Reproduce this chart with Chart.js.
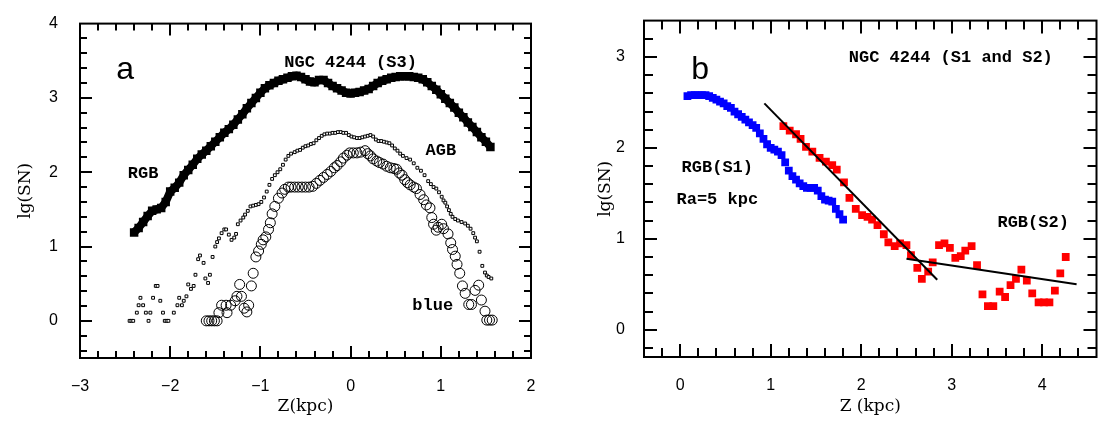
<!DOCTYPE html>
<html>
<head>
<meta charset="utf-8">
<script src="https://cdn.jsdelivr.net/npm/chart.js@4.4.1/dist/chart.umd.min.js"></script>
<style>
  body { margin: 0; background: #fff; }
  #wrap { position: relative; width: 1102px; height: 425px; }
  #wrap canvas { position: absolute; top: 0; }
  #chartA { left: 0; }
  #chartB { left: 560px; }
</style>
</head>
<body>
<div id="wrap">
  <canvas id="chartA" width="560" height="425"></canvas>
  <canvas id="chartB" width="542" height="425"></canvas>
</div>
<script>
// ---- panel a : NGC 4244 (S3), lg(SN) vs Z ----
const xTicksA = [-3, -2, -1, 0, 1, 2];
const yTicksA = [0, 1, 2, 3, 4];

const rgbZ = [-2.40,-2.35,-2.30,-2.25,-2.20,-2.15,-2.10,-2.05,-2.00,-1.95,-1.90,-1.85,-1.80,-1.75,-1.70,-1.65,-1.60,-1.55,-1.50,-1.45,
  -1.40,-1.35,-1.30,-1.25,-1.20,-1.15,-1.10,-1.05,-1.00,-0.95,-0.90,-0.85,-0.80,-0.75,-0.70,-0.65,-0.60,-0.55,-0.50,-0.45,
  -0.40,-0.35,-0.30,-0.25,-0.20,-0.15,-0.10,-0.05,0.00,0.05,0.10,0.15,0.20,0.25,0.30,0.35,0.40,0.45,0.50,0.55,
  0.60,0.65,0.70,0.75,0.80,0.85,0.90,0.95,1.00,1.05,1.10,1.15,1.20,1.25,1.30,1.35,1.40,1.45,1.50,1.55];
const rgbLg = [1.19,1.25,1.33,1.41,1.48,1.50,1.52,1.60,1.74,1.79,1.86,1.96,2.03,2.10,2.18,2.24,2.29,2.35,2.41,2.47,
  2.53,2.58,2.64,2.71,2.78,2.86,2.93,3.00,3.07,3.13,3.17,3.20,3.23,3.25,3.27,3.29,3.30,3.28,3.25,3.22,
  3.21,3.24,3.24,3.20,3.16,3.13,3.10,3.07,3.06,3.07,3.08,3.10,3.12,3.16,3.20,3.23,3.25,3.27,3.28,3.29,
  3.29,3.29,3.28,3.27,3.25,3.21,3.16,3.11,3.05,2.99,2.93,2.87,2.80,2.74,2.67,2.61,2.54,2.47,2.41,2.34];

const agb = [
  [-2.45,0.00],[-2.43,0.00],[-2.41,0.00],[-2.37,0.11],[-2.35,0.21],[-2.33,0.31],[-2.30,0.21],[-2.27,0.11],[-2.24,0.00],[-2.22,0.11],
  [-2.19,0.31],[-2.16,0.47],[-2.14,0.47],[-2.11,0.27],[-2.08,0.11],[-2.06,0.00],[-2.04,0.00],[-2.02,0.00],[-1.96,0.11],[-1.92,0.21],
  [-1.90,0.31],[-1.87,0.21],[-1.85,0.27],[-1.82,0.33],[-1.80,0.49],[-1.77,0.43],[-1.74,0.47],[-1.72,0.62],[-1.69,0.83],[-1.67,0.88],
  [-1.63,0.78],[-1.61,0.57],[-1.58,0.51],[-1.56,0.62],[-1.53,0.86],[-1.50,1.00],[-1.48,1.06],[-1.46,1.11],[-1.43,1.18],[-1.40,1.23],
  [-1.38,1.23],[-1.35,1.16],[-1.32,1.09],[-1.29,1.12],[-1.27,1.17],[-1.25,1.30],[-1.22,1.35],[-1.19,1.39],[-1.17,1.43],[-1.14,1.48],
  [-1.11,1.54],[-1.08,1.55],[-1.05,1.56],[-1.02,1.57],[-0.99,1.60],[-0.96,1.66],[-0.93,1.74],[-0.90,1.83],[-0.87,1.91],[-0.84,1.96],
  [-0.81,2.00],[-0.78,2.04],[-0.75,2.10],[-0.72,2.17],[-0.69,2.22],[-0.66,2.25],[-0.62,2.27],[-0.59,2.29],[-0.56,2.30],[-0.53,2.33],
  [-0.50,2.35],[-0.47,2.36],[-0.44,2.38],[-0.41,2.39],[-0.38,2.43],[-0.35,2.46],[-0.32,2.49],[-0.29,2.51],[-0.26,2.52],[-0.23,2.52],
  [-0.20,2.53],[-0.17,2.53],[-0.14,2.54],[-0.11,2.54],[-0.08,2.53],[-0.05,2.53],[-0.02,2.50],[0.01,2.48],[0.04,2.47],[0.07,2.46],
  [0.10,2.46],[0.13,2.47],[0.16,2.48],[0.19,2.49],[0.22,2.50],[0.25,2.48],[0.28,2.44],[0.31,2.42],[0.34,2.42],[0.37,2.41],
  [0.40,2.40],[0.43,2.39],[0.46,2.36],[0.49,2.32],[0.52,2.29],[0.55,2.25],[0.58,2.22],[0.62,2.19],[0.66,2.17],[0.70,2.12],
  [0.74,2.06],[0.78,2.02],[0.82,1.96],[0.86,1.88],[0.89,1.84],[0.92,1.80],[0.95,1.78],[0.98,1.73],[1.01,1.67],[1.03,1.62],
  [1.05,1.59],[1.07,1.54],[1.09,1.49],[1.11,1.44],[1.13,1.40],[1.16,1.37],[1.19,1.35],[1.23,1.33],[1.27,1.31],[1.30,1.28],
  [1.33,1.24],[1.36,1.18],[1.38,1.12],[1.40,1.07],[1.43,0.93],[1.46,0.74],[1.49,0.65],[1.51,0.61],[1.53,0.59],[1.56,0.57]
];

const blue = [
  [-1.60,0.00],[-1.57,0.00],[-1.54,0.00],[-1.51,0.00],[-1.48,0.00],[-1.46,0.11],[-1.43,0.21],[-1.38,0.21],[-1.37,0.11],[-1.33,0.21],
  [-1.28,0.27],[-1.26,0.33],[-1.23,0.49],[-1.21,0.33],[-1.18,0.17],[-1.15,0.12],[-1.13,0.21],[-1.10,0.47],[-1.08,0.64],[-1.05,0.86],
  [-1.02,0.94],[-0.99,1.03],[-0.97,1.09],[-0.94,1.13],[-0.91,1.23],[-0.89,1.32],[-0.87,1.44],[-0.84,1.54],[-0.80,1.65],[-0.76,1.72],
  [-0.73,1.77],[-0.69,1.80],[-0.66,1.80],[-0.62,1.80],[-0.58,1.80],[-0.54,1.80],[-0.50,1.80],[-0.46,1.80],[-0.42,1.81],[-0.38,1.85],
  [-0.34,1.89],[-0.30,1.93],[-0.26,1.97],[-0.22,2.01],[-0.18,2.06],[-0.15,2.09],[-0.11,2.14],[-0.08,2.19],[-0.04,2.23],[-0.01,2.26],
  [0.03,2.26],[0.07,2.26],[0.11,2.27],[0.16,2.29],[0.19,2.25],[0.22,2.22],[0.25,2.18],[0.29,2.15],[0.32,2.13],[0.36,2.11],
  [0.40,2.08],[0.44,2.06],[0.48,2.05],[0.51,2.04],[0.54,1.99],[0.57,1.96],[0.60,1.90],[0.63,1.86],[0.66,1.83],[0.70,1.80],
  [0.73,1.78],[0.77,1.70],[0.81,1.63],[0.84,1.56],[0.88,1.52],[0.90,1.39],[0.92,1.30],[0.95,1.22],[0.97,1.26],[1.01,1.30],
  [1.03,1.24],[1.08,1.17],[1.11,1.05],[1.13,0.96],[1.16,0.87],[1.18,0.76],[1.21,0.64],[1.24,0.47],[1.27,0.37],[1.31,0.22],
  [1.34,0.22],[1.38,0.41],[1.42,0.48],[1.45,0.28],[1.49,0.13],[1.51,0.01],[1.54,0.01],[1.57,0.01]
];

// ---- panel b : NGC 4244 (S1 and S2) ----
const xTicksB = [0, 1, 2, 3, 4];
const yTicksB = [0, 1, 2, 3];

const s1 = [
  [0.08,2.57],[0.12,2.58],[0.16,2.58],[0.20,2.58],[0.24,2.58],[0.28,2.58],[0.32,2.57],[0.36,2.55],[0.40,2.53],[0.44,2.51],
  [0.48,2.49],[0.52,2.46],[0.56,2.44],[0.60,2.40],[0.64,2.37],[0.68,2.34],[0.72,2.31],[0.76,2.28],[0.80,2.25],[0.84,2.22],
  [0.88,2.16],[0.92,2.10],[0.96,2.04],[1.00,2.00],[1.04,1.98],[1.08,1.96],[1.12,1.92],[1.16,1.84],[1.20,1.75],[1.24,1.69],
  [1.28,1.65],[1.32,1.61],[1.36,1.58],[1.40,1.56],[1.44,1.56],[1.48,1.56],[1.52,1.53],[1.56,1.47],[1.60,1.43],[1.64,1.42],
  [1.68,1.41],[1.72,1.33],[1.76,1.27],[1.80,1.21]
];

const s2 = [
  [1.14,2.24],[1.21,2.19],[1.28,2.15],[1.33,2.10],[1.39,2.01],[1.46,1.96],[1.54,1.89],[1.61,1.85],[1.68,1.81],[1.73,1.76],
  [1.81,1.62],[1.87,1.45],[1.94,1.33],[2.01,1.26],[2.07,1.24],[2.12,1.21],[2.18,1.15],[2.25,1.05],[2.30,0.96],[2.37,0.92],
  [2.43,0.95],[2.50,0.93],[2.55,0.82],[2.62,0.68],[2.67,0.56],[2.74,0.64],[2.79,0.74],[2.86,0.93],[2.92,0.95],[2.98,0.90],
  [3.04,0.79],[3.10,0.81],[3.15,0.87],[3.22,0.92],[3.28,0.71],[3.34,0.39],[3.40,0.26],[3.46,0.26],[3.53,0.42],[3.59,0.36],
  [3.65,0.49],[3.71,0.56],[3.77,0.66],[3.83,0.54],[3.89,0.40],[3.96,0.30],[4.02,0.30],[4.08,0.30],[4.14,0.43],[4.20,0.62],
  [4.26,0.80]
];

// straight-line fits (end points)
const fitInner = [[0.93,2.49],[2.84,0.55]];
const fitOuter = [[2.50,0.78],[4.38,0.50]];

const pts = pairs => pairs.map(p => ({ x: p[0], y: p[1] }));
const minus = v => (v < 0 ? '\u2212' + Math.abs(v) : String(v));

function stepValues(min, max, step) {
  const out = [];
  for (let i = Math.ceil(min / step - 1e-6); i * step <= max + 1e-6; i++) {
    out.push(+(i * step).toFixed(6));
  }
  return out;
}

// box frame with inward major/minor ticks on all four sides, plus text notes
const framePlugin = {
  id: 'frame',
  afterDatasetsDraw(chart, args, opts) {
    const { ctx, chartArea: a, scales: { x, y } } = chart;
    const whole = v => Math.abs(v - Math.round(v)) < 1e-6;
    ctx.save();
    ctx.strokeStyle = '#000';
    ctx.lineWidth = 2;
    ctx.beginPath();
    stepValues(x.min, x.max, opts.step).forEach(v => {
      if (v <= x.min || v >= x.max) return;
      const px = Math.round(x.getPixelForValue(v));
      const len = whole(v) ? opts.major : opts.minor;
      ctx.moveTo(px, a.bottom); ctx.lineTo(px, a.bottom - len);
      ctx.moveTo(px, a.top); ctx.lineTo(px, a.top + len);
    });
    stepValues(y.min, y.max, opts.step).forEach(v => {
      if (v <= y.min || v >= y.max) return;
      const py = Math.round(y.getPixelForValue(v));
      const len = whole(v) ? opts.major : opts.minor;
      ctx.moveTo(a.left, py); ctx.lineTo(a.left + len, py);
      ctx.moveTo(a.right, py); ctx.lineTo(a.right - len, py);
    });
    ctx.stroke();
    ctx.lineWidth = 2;
    ctx.strokeRect(a.left, a.top, a.right - a.left, a.bottom - a.top);

    ctx.fillStyle = '#000';
    ctx.textAlign = 'center';
    ctx.textBaseline = 'middle';
    opts.notes.forEach(n => {
      ctx.font = n.font;
      ctx.fillText(n.text, x.getPixelForValue(n.x), y.getPixelForValue(n.y));
    });
    ctx.restore();
  }
};

const tickFont = { family: 'Liberation Sans', size: 16 };
const titleFont = { family: 'DejaVu Serif', size: 17 };
const letterFont = '32px "Liberation Sans"';
const noteFont = 'bold 17px "Liberation Mono"';

function scales(o) {
  return {
    x: {
      type: 'linear', min: o.xMin, max: o.xMax,
      grid: { display: false }, border: { display: false },
      afterBuildTicks: s => { s.ticks = o.xTicks.map(v => ({ value: v })); },
      afterFit: s => { s.height = o.xHeight; },
      ticks: { color: '#000', font: tickFont, padding: 11, autoSkip: false, maxRotation: 0, callback: minus },
      title: { display: true, text: o.xTitle, color: '#000', font: titleFont, padding: { top: 0, bottom: 8 } }
    },
    y: {
      type: 'linear', min: o.yMin, max: o.yMax,
      grid: { display: false }, border: { display: false },
      afterBuildTicks: s => { s.ticks = o.yTicks.map(v => ({ value: v })); },
      afterFit: s => { s.width = o.yWidth; },
      ticks: { color: '#000', font: tickFont, padding: o.yPad, autoSkip: false, callback: minus },
      title: { display: true, text: 'lg(SN)', color: '#000', font: titleFont, padding: { top: o.yTitlePad, bottom: 0 } }
    }
  };
}

const common = {
  responsive: false,
  animation: false,
  events: [],
  plugins: { legend: { display: false }, tooltip: { enabled: false } }
};

new Chart(document.getElementById('chartA'), {
  type: 'scatter',
  data: {
    datasets: [
      // RGB: dense filled squares merging into a thick band
      { data: rgbZ.map((z, i) => ({ x: z, y: rgbLg[i] })), showLine: true, borderWidth: 8,
        borderColor: '#000', pointStyle: 'rect', pointRadius: 6, pointBorderWidth: 0,
        backgroundColor: '#000' },
      { data: pts(agb), pointStyle: 'rect', pointRadius: 2,
        backgroundColor: '#fff', borderColor: '#000', borderWidth: 1 },
      { data: pts(blue), pointStyle: 'circle', pointRadius: 5,
        backgroundColor: 'rgba(0,0,0,0)', borderColor: '#000', borderWidth: 1 }
    ]
  },
  options: {
    ...common,
    layout: { padding: { left: 0, right: 29, top: 13, bottom: 0 } },
    scales: scales({ xMin: -3, xMax: 2, yMin: -0.5, yMax: 4, xTicks: xTicksA, yTicks: yTicksA,
      xHeight: 67, yWidth: 80, yPad: 14, yTitlePad: 15, xTitle: 'Z(kpc)' }),
    plugins: {
      ...common.plugins,
      frame: {
        step: 0.2, major: 12, minor: 7,
        notes: [
          { text: 'a', x: -2.50, y: 3.38, font: letterFont },
          { text: 'NGC 4244 (S3)', x: 0.0, y: 3.48, font: noteFont },
          { text: 'RGB', x: -2.30, y: 1.98, font: noteFont },
          { text: 'AGB', x: 1.0, y: 2.29, font: noteFont },
          { text: 'blue', x: 0.91, y: 0.21, font: noteFont }
        ]
      }
    }
  },
  plugins: [framePlugin]
});

new Chart(document.getElementById('chartB'), {
  type: 'scatter',
  data: {
    datasets: [
      { data: pts(fitInner), showLine: true, pointRadius: 0, borderColor: '#000', borderWidth: 2, order: 0 },
      { data: pts(fitOuter), showLine: true, pointRadius: 0, borderColor: '#000', borderWidth: 2, order: 0 },
      { data: pts(s1), pointStyle: 'rect', pointRadius: 5.5,
        backgroundColor: '#0000ff', borderColor: '#0000ff', borderWidth: 0, order: 1 },
      { data: pts(s2), pointStyle: 'rect', pointRadius: 5.5,
        backgroundColor: '#ff0000', borderColor: '#ff0000', borderWidth: 0, order: 1 }
    ]
  },
  options: {
    ...common,
    layout: { padding: { left: 0, right: 2, top: 12, bottom: 0 } },
    scales: scales({ xMin: -0.4, xMax: 4.6, yMin: -0.3, yMax: 3.4, xTicks: xTicksB, yTicks: yTicksB,
      xHeight: 68, yWidth: 84, yPad: 11, yTitlePad: 35, xTitle: 'Z (kpc)' }),
    plugins: {
      ...common.plugins,
      frame: {
        step: 0.2, major: 13, minor: 9,
        notes: [
          { text: 'b', x: 0.22, y: 2.85, font: letterFont },
          { text: 'NGC 4244 (S1 and S2)', x: 2.99, y: 2.99, font: noteFont },
          { text: 'RGB(S1)', x: 0.41, y: 1.78, font: noteFont },
          { text: 'Ra=5 kpc', x: 0.41, y: 1.43, font: noteFont },
          { text: 'RGB(S2)', x: 3.90, y: 1.18, font: noteFont }
        ]
      }
    }
  },
  plugins: [framePlugin]
});
</script>
</body>
</html>
